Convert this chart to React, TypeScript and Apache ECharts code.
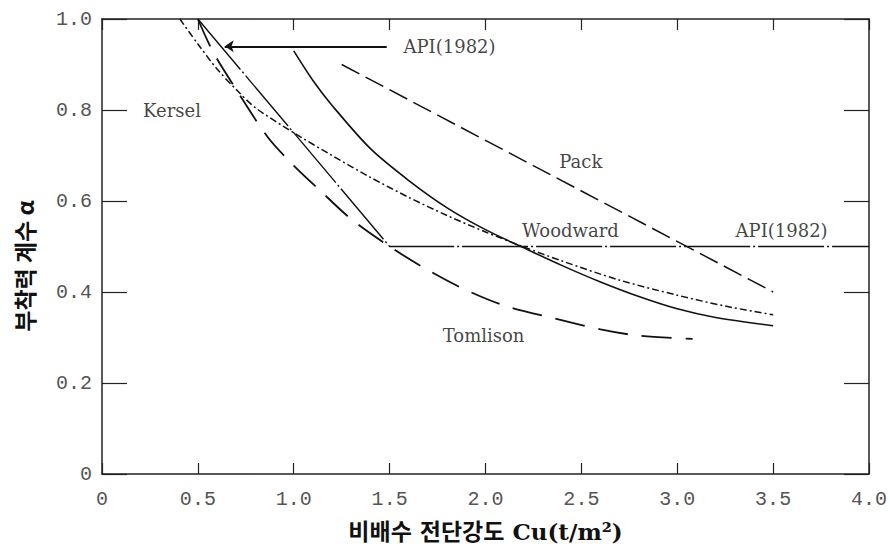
import React, { useEffect, useRef } from "react";
import * as echarts from "echarts";

// Curves (x = Cu in t/m², y = adhesion factor α)
const woodward: [number, number][] = [
  [1.0, 0.93], [1.1, 0.865], [1.2, 0.81], [1.4, 0.715], [1.6, 0.645], [1.8, 0.585],
  [2.0, 0.537], [2.2, 0.497], [2.4, 0.458], [2.6, 0.422], [2.8, 0.39], [3.0, 0.363],
  [3.2, 0.344], [3.5, 0.326],
];
const kersel: [number, number][] = [
  [0.406, 1.0], [0.5, 0.945], [0.6, 0.89], [0.7, 0.845], [0.8, 0.805], [1.0, 0.75],
  [1.2, 0.70], [1.4, 0.652], [1.6, 0.608], [1.8, 0.568], [2.0, 0.532], [2.2, 0.499],
  [2.4, 0.468], [2.7, 0.426], [3.0, 0.393], [3.25, 0.369], [3.5, 0.35],
];
const tomlison: [number, number][] = [
  [0.5, 1.0], [0.58, 0.927], [0.7, 0.845], [0.865, 0.74], [1.0, 0.678], [1.135, 0.624],
  [1.3, 0.56], [1.5, 0.5], [1.7, 0.448], [1.9, 0.404], [2.1, 0.37], [2.35, 0.343],
  [2.6, 0.318], [2.8, 0.304], [3.08, 0.297],
];
const pack: [number, number][] = [[1.25, 0.9], [2.5, 0.622], [3.5, 0.4]];
const api1982: [number, number][] = [[0.5, 1.0], [1.5, 0.5], [4.0, 0.5]];
const arrowCoords: [number, number][] = [[1.485, 0.94], [0.64, 0.94]];

// Text annotations
const labelTexts = ["API(1982)", "Kersel", "Pack", "Woodward", "API(1982)", "Tomlison"];
const labelXs = [1.8125, 0.365, 2.497, 2.443, 3.544, 1.99];
const labelYs = [0.94, 0.80, 0.686, 0.536, 0.536, 0.305];

// Axes
const xMin = 0, xMax = 4, xStep = 0.5;
const yMin = 0, yMax = 1, yStep = 0.2;
const xTitle = "비배수 전단강도 Cu(t/m²)";
const yTitle = "부착력 계수 α";

const tickFmt = (v: number) => (Math.abs(v) < 1e-9 ? "0" : v.toFixed(1));

const INK = "#111";
const FRAME = "#222";

export default function App() {
  const ref = useRef<HTMLDivElement>(null);
  useEffect(() => {
    document.body.style.margin = "0";
    const chart = echarts.init(ref.current!, null, { renderer: "svg" });
    const labelFont = {
      fontFamily: "'Liberation Mono', 'DejaVu Sans Mono', monospace",
      fontSize: 20,
      color: "#555",
    };
    const baseAxisLine = { show: true, onZero: false, lineStyle: { color: FRAME, width: 1.5 } };
    const curve = { type: "line", smooth: 0.3, showSymbol: false };
    const option: any = {
      animation: false,
      backgroundColor: "#fff",
      grid: { left: 102, right: 20, top: 19, bottom: 81, containLabel: false },
      xAxis: [
        {
          type: "value", min: xMin, max: xMax, interval: xStep, position: "bottom",
          axisLine: baseAxisLine,
          axisTick: { show: true, inside: true, length: 11, lineStyle: { color: FRAME, width: 1.2 } },
          axisLabel: { ...labelFont, margin: 15, formatter: tickFmt, showMinLabel: true, showMaxLabel: true },
          splitLine: { show: false },
          name: xTitle, nameLocation: "middle", nameGap: 46,
          nameTextStyle: {
            fontFamily: "'DejaVu Serif', 'Noto Sans CJK KR', serif",
            fontSize: 23, fontWeight: "bold", color: INK,
          },
        },
        {
          type: "value", min: xMin, max: xMax, interval: xStep, position: "top",
          axisLine: baseAxisLine,
          axisTick: { show: true, inside: true, length: 11, lineStyle: { color: FRAME, width: 1.2 } },
          axisLabel: { show: false },
          splitLine: { show: false },
        },
      ],
      yAxis: [
        {
          type: "value", min: yMin, max: yMax, interval: yStep, position: "left",
          axisLine: baseAxisLine,
          axisTick: { show: true, inside: true, length: 25, lineStyle: { color: FRAME, width: 1.2 } },
          axisLabel: { ...labelFont, margin: 10, formatter: tickFmt, showMinLabel: true, showMaxLabel: true },
          splitLine: { show: false },
        },
        {
          type: "value", min: yMin, max: yMax, interval: yStep, position: "right",
          axisLine: baseAxisLine,
          axisTick: { show: true, inside: true, length: 25, lineStyle: { color: FRAME, width: 1.2 } },
          axisLabel: { show: false },
          splitLine: { show: false },
        },
      ],
      graphic: [
        {
          type: "text", x: 24, y: 266, rotation: Math.PI / 2,
          style: {
            text: yTitle, fontFamily: "'Noto Sans CJK KR', sans-serif", fontSize: 23,
            fontWeight: "bold", fill: INK, align: "center", verticalAlign: "middle",
          },
        },
      ],
      series: [
        { ...curve, name: "Woodward", data: woodward, lineStyle: { color: INK, width: 1.6, type: "solid" } },
        { ...curve, name: "Kersel", data: kersel, lineStyle: { color: INK, width: 1.5, type: [7, 3, 2, 3] } },
        { ...curve, name: "Tomlison", data: tomlison, lineStyle: { color: INK, width: 1.8, type: [30, 14] } },
        { ...curve, name: "Pack", data: pack, smooth: false, lineStyle: { color: INK, width: 1.5, type: [20, 7] } },
        {
          name: "API(1982)", type: "line", data: api1982, smooth: false, showSymbol: false,
          lineStyle: { color: INK, width: 1.4, type: [66, 3, 2, 3] },
        },
        {
          name: "arrow", type: "lines", coordinateSystem: "cartesian2d", polyline: false,
          data: [{ coords: arrowCoords }],
          symbol: ["none", "arrow"], symbolSize: 9,
          lineStyle: { color: INK, width: 1.8, opacity: 1, curveness: 0 },
          silent: true,
        },
        {
          name: "labels", type: "scatter", symbolSize: 1, silent: true,
          itemStyle: { color: "rgba(0,0,0,0)" },
          data: labelTexts.map((t, i) => ({ value: [labelXs[i], labelYs[i]], name: t })),
          label: {
            show: true, position: "inside", formatter: (p: any) => p.name,
            fontFamily: "'DejaVu Serif', serif", fontSize: 18, color: INK,
          },
          z: 10,
        },
      ],
    };
    chart.setOption(option);
    return () => chart.dispose();
  }, []);
  return <div ref={ref} style={{ width: 890, height: 555 }} />;
}
